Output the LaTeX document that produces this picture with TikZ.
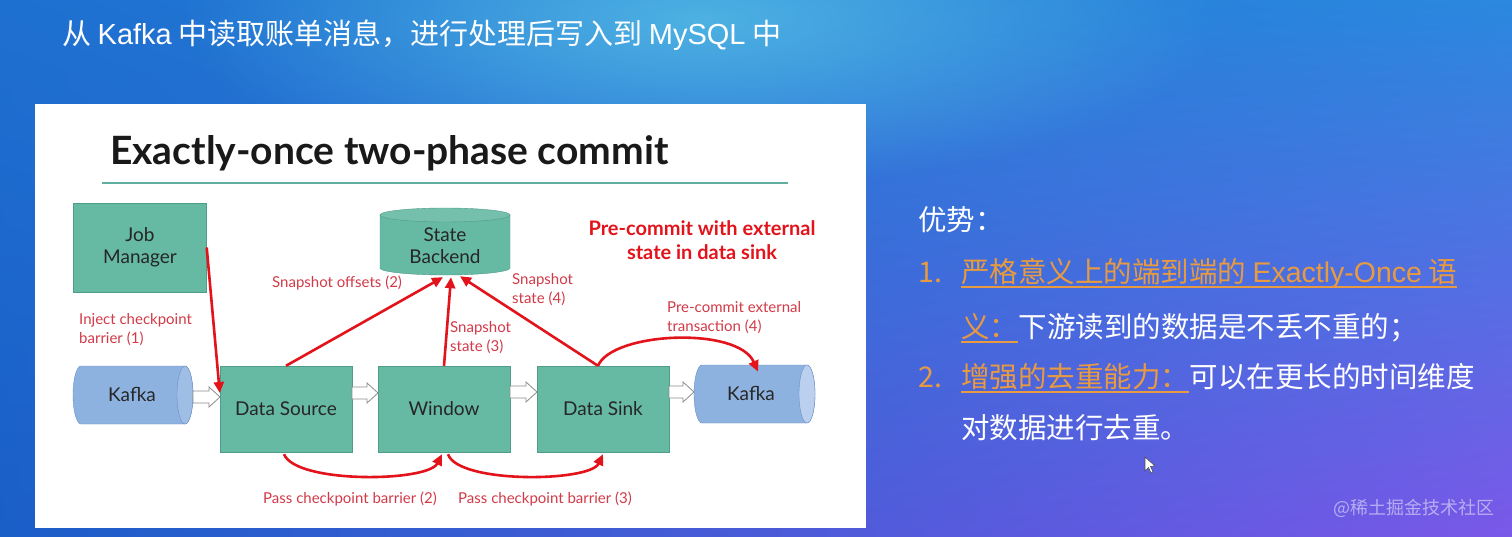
\documentclass[tikz,border=0pt]{standalone}
\usepackage{fontspec}
\setmainfont{Lato}
\newfontfamily\cjk{Noto Sans CJK SC}
\newfontfamily\helv{Liberation Sans}
\usetikzlibrary{calc,arrows.meta,fadings,shadings}
\tikzfading[name=spotfade, inner color=transparent!0, outer color=transparent!100]
\definecolor{boxfill}{HTML}{66B9A3}
\definecolor{boxline}{HTML}{4F9C88}
\definecolor{kfill}{HTML}{8EB2E0}
\definecolor{kline}{HTML}{6B8FC7}
\definecolor{kface}{HTML}{BBD0EE}
\definecolor{redarrow}{HTML}{E3131B}
\definecolor{lblred}{HTML}{D23A48}
\definecolor{orangetxt}{HTML}{E89A40}
\definecolor{tealline}{HTML}{5FAE9F}
\definecolor{bgUL}{HTML}{1E70D0}
\definecolor{bgUR}{HTML}{2A88DE}
\definecolor{bgLL}{HTML}{1A5EC8}
\definecolor{bgLR}{HTML}{7A58E8}
\definecolor{bgspot}{HTML}{52B8E4}
\tikzset{
  box/.style={draw=boxline, fill=boxfill, inner sep=0pt, align=center,
    text=black!85, font=\fontsize{19}{22}\selectfont},
  lbl/.style={text=lblred, inner sep=0pt, align=left, font=\fontsize{15}{19}\selectfont},
  redarr/.style={draw=redarrow, line width=2.6pt, -{Triangle[length=11pt,width=10pt]}},
  hollowarr/.style={draw=black!45, fill=white, line width=0.8pt},
  kafkatext/.style={inner sep=0pt, text=black!85, font=\fontsize{19}{22}\selectfont},
  cjkw/.style={text=white, inner sep=0pt, font=\cjk\fontsize{28.5}{34}\selectfont},
  cjko/.style={text=orangetxt, inner sep=0pt, font=\cjk\fontsize{28.5}{34}\selectfont},
}
% hollow block arrow: start x, end x, centre y
\newcommand\hollarr[3]{%
  \filldraw[hollowarr] (#1,#3-6) -- (#2-11,#3-6) -- (#2-11,#3-10) -- (#2,#3) -- (#2-11,#3+10)
    -- (#2-11,#3+6) -- (#1,#3+6) -- cycle;}
\begin{document}
\begin{tikzpicture}[x=1pt,y=-1pt]
\useasboundingbox (0,0) rectangle (1512,537);
% background
\shade[upper left=bgUL, upper right=bgUR, lower left=bgLL, lower right=bgLR] (0,0) rectangle (1512,537);
\fill[bgspot, path fading=spotfade, opacity=0.9] (700,20) ellipse (520 and 170);
% top title
\node[anchor=west, text=white, inner sep=0pt, font=\cjk\fontsize{29}{34}\selectfont] (toptitle) at (62,35)
  {从 {\helv Kafka} 中读取账单消息，进行处理后写入到 {\helv MySQL} 中};
% slide
\fill[white] (35,104) rectangle (866,528);
\node[anchor=base west, inner sep=0pt, text=black!90, font=\bfseries\fontsize{39}{44}\selectfont] (title) at (110,165)
  {Exactly-once two-phase commit};
\draw[tealline, line width=1.5pt] (102,183) -- (788,183);
% boxes
\node[box, minimum width=133pt, minimum height=89pt] (jm) at (140,247.5) {Job\\Manager};
\node[box, minimum width=132pt, minimum height=86pt] (ds) at (286,409) {Data Source};
\node[box, minimum width=132pt, minimum height=86pt] (win) at (444,409) {Window};
\node[box, minimum width=132pt, minimum height=86pt] (sink) at (603,409) {Data Sink};
% state backend cylinder
\fill[boxfill] (380,215) -- (380,268) arc[start angle=180, end angle=0, x radius=65, y radius=7] -- (510,215) -- cycle;
\draw[boxline] (380,215) -- (380,268) arc[start angle=180, end angle=0, x radius=65, y radius=7] -- (510,215);
\filldraw[fill=boxfill!90!white, draw=boxline] (445,215) ellipse (65 and 7);
\node[inner sep=0pt, minimum width=130pt, minimum height=60pt, align=center, text=black!85,
  font=\fontsize{19}{22}\selectfont] (sb) at (445,246) {State\\Backend};
% kafka left
\filldraw[fill=kfill, draw=kline] (81,366) -- (185,366) arc[start angle=-90, end angle=90, x radius=8, y radius=29]
  -- (81,424) arc[start angle=90, end angle=270, x radius=8, y radius=29] -- cycle;
\filldraw[fill=kfill!85!white, draw=kline] (185,395) ellipse (8 and 29);
\node[kafkatext] (k1) at (132,394) {Kafka};
% kafka right
\filldraw[fill=kfill, draw=kline] (702,365) -- (807,365) arc[start angle=-90, end angle=90, x radius=8, y radius=29]
  -- (702,423) arc[start angle=90, end angle=270, x radius=8, y radius=29] -- cycle;
\filldraw[fill=kface, draw=kline] (807,394) ellipse (8 and 29);
\node[kafkatext] (k2) at (751,393) {Kafka};
% hollow arrows
\hollarr{193}{220}{397}
\hollarr{352}{378}{393}
\hollarr{510}{537}{392}
\hollarr{669}{694}{392}
% red connectors
\draw[redarr] (jm.east) -- ($(ds.west)+(0,-16)$);
\draw[redarr] (ds.north) -- ($(sb.south)+(-2,1)$);
\draw[redarr] (win.north) -- ($(sb.south)+(6,1)$);
\draw[redarr] ($(sink.north)+(-5,0)$) -- ($(sb.south)+(15,0)$);
\draw[redarr] ($(sink.north)+(-5,0)$) .. controls (612,332) and (738,326) .. ($(k2.north)+(7,-14)$);
\draw[redarr] ($(ds.south)+(-2,2)$) .. controls (296,484) and (428,482) .. ($(win.south)+(-2,2)$);
\draw[redarr] ($(win.south)+(4,2)$) .. controls (458,484) and (590,482) .. ($(sink.south)+(0,2)$);
% labels
\node[lbl, anchor=west] (l1) at (79,329.5) {Inject checkpoint\\barrier (1)};
\node[lbl, anchor=west] (l2) at (272,283) {Snapshot offsets (2)};
\node[lbl, anchor=west] (l3) at (450,337.5) {Snapshot\\state (3)};
\node[lbl, anchor=west] (l4) at (512,290) {Snapshot\\state (4)};
\node[lbl, anchor=west] (l5) at (667,317.5) {Pre-commit external\\transaction (4)};
\node[lbl, anchor=west] (l6) at (263,499) {Pass checkpoint barrier (2)};
\node[lbl, anchor=west] (l7) at (458,499) {Pass checkpoint barrier (3)};
\node[inner sep=0pt, align=center, text=redarrow, font=\bfseries\fontsize{20}{24}\selectfont] (pc) at (702,240)
  {Pre-commit with external\\state in data sink};
% right text
\node[cjkw, anchor=base west] (adv) at (918,230.6) {优势：};
\node[cjko, anchor=base west] (n1) at (918,282.6) {1.};
\node[cjko, anchor=base west] (o1) at (961,282.6) {严格意义上的端到端的 {\helv Exactly-Once} 语};
\node[cjko, anchor=base west] (o2) at (961,337.6) {义：};
\node[cjkw, anchor=base west] (w2) at (o2.base east) {下游读到的数据是不丢不重的；};
\node[cjko, anchor=base west] (n2) at (918,387.6) {2.};
\node[cjko, anchor=base west] (o3) at (961,387.6) {增强的去重能力：};
\node[cjkw, anchor=base west] (w3) at (o3.base east) {可以在更长的时间维度};
\node[cjkw, anchor=base west] (w4) at (961,438.6) {对数据进行去重。};
\draw[orangetxt, line width=1.4pt] ($(o1.base west)+(0,4.5)$) -- ($(o1.base east)+(0,4.5)$);
\draw[orangetxt, line width=1.4pt] ($(o2.base west)+(0,4.5)$) -- ($(o2.base east)+(0,4.5)$);
\draw[orangetxt, line width=1.4pt] ($(o3.base west)+(0,4.5)$) -- ($(o3.base east)+(0,4.5)$);
% cursor
\filldraw[fill=white, draw=black!70, line width=0.6pt] (1145,457) -- (1145,471) -- (1148.5,467.5) -- (1151,473) -- (1153,472) -- (1150.5,466.5) -- (1155,466) -- cycle;
% watermark
\node[anchor=west, inner sep=0pt, text=white, opacity=0.5, font=\cjk\fontsize{18}{22}\selectfont] (wm) at (1333,508) {@稀土掘金技术社区};
\end{tikzpicture}
\end{document}
